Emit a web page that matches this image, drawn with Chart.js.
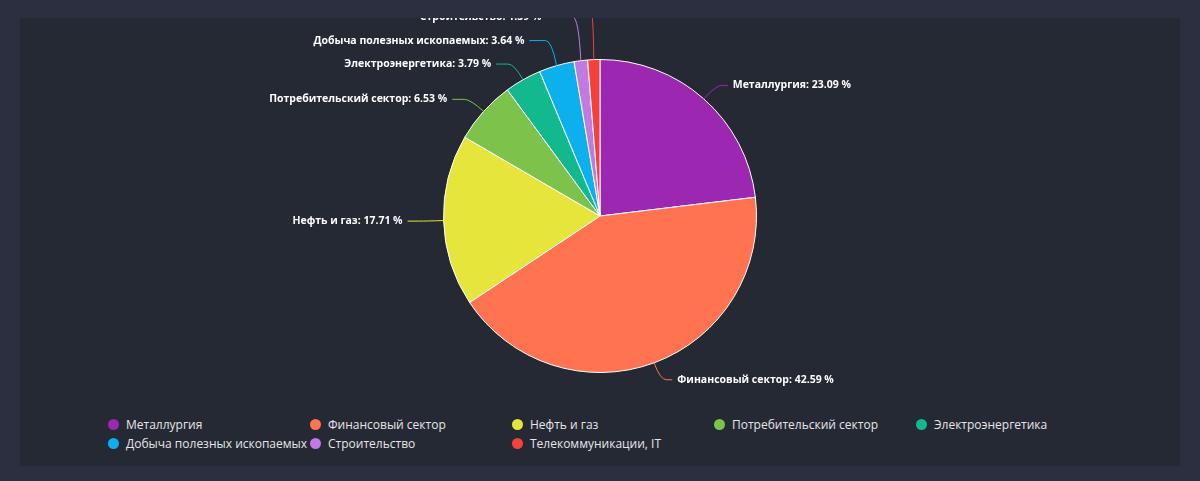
<!DOCTYPE html>
<html><head><meta charset="utf-8">
<script src="https://cdn.jsdelivr.net/npm/chart.js@4"></script>
<style>
  body{margin:0;background:#2c2f40;font-family:"Open Sans",sans-serif;}
  .panel{position:absolute;left:20px;top:18px;width:1160px;height:448px;background:#252934;}
  .wrap{position:absolute;left:0;top:0;width:1160px;height:396px;}
  .legend{position:absolute;left:88px;top:398px;display:grid;grid-template-columns:repeat(5,202px);row-gap:2px;color:#e6e6e6;font-size:12px;}
  .legend span{display:flex;align-items:center;height:17px;}
  .legend i{display:inline-block;width:11px;height:11px;border-radius:50%;margin-right:7px;}
</style></head>
<body>
<div class="panel">
  <div class="wrap"><canvas id="c"></canvas></div>
  <div class="legend" id="legend"></div>
</div>
<script>
const labels = ['Металлургия','Финансовый сектор','Нефть и газ','Потребительский сектор','Электроэнергетика','Добыча полезных ископаемых','Строительство','Телекоммуникации, IT'];
const values = [23.09, 42.59, 17.71, 6.53, 3.79, 3.64, 1.39, 1.26];
const colors = ['#9c27b0','#ff7350','#e5e53b','#7dc24a','#12b88e','#0bb0ec','#c07ae0','#f2423a'];

document.getElementById('legend').innerHTML = labels.map((l, i) =>
  `<span><i style="background:${colors[i]}"></i>${l}</span>`).join('');

const leaderLabels = {
  id: 'leaderLabels',
  afterDatasetsDraw(chart) {
    const ctx = chart.ctx;
    const arcs = chart.getDatasetMeta(0).data;
    const items = arcs.map((a, i) => {
      const mid = (a.startAngle + a.endAngle) / 2;
      const r = a.outerRadius;
      const cos = Math.cos(mid), sin = Math.sin(mid);
      return {
        i, right: cos >= 0,
        x0: a.x + cos * r, y0: a.y + sin * r,
        x1: a.x + cos * (r + 18), y1: a.y + sin * (r + 18),
      };
    });
    // spread left labels upward so they don't overlap
    const left = items.filter(t => !t.right).sort((a, b) => b.y1 - a.y1);
    let prev = null;
    left.forEach(t => {
      t.ly = t.y1;
      if (prev !== null && prev - t.ly < 23.5) t.ly = prev - 23.5;
      prev = t.ly;
    });
    items.filter(t => t.right).forEach(t => t.ly = t.y1);
    ctx.save();
    ctx.font = 'bold 10.5px "Open Sans"';
    ctx.textBaseline = 'middle';
    items.forEach(t => {
      const dir = t.right ? 1 : -1;
      const lx = t.x1 + dir * (t.right ? 12 : 18 + Math.abs(t.ly - t.y1) * 0.55);
      ctx.strokeStyle = colors[t.i];
      ctx.lineWidth = 1;
      ctx.beginPath();
      ctx.moveTo(t.x0, t.y0);
      ctx.quadraticCurveTo(t.x1, t.ly, t.x1 + dir * 6, t.ly);
      ctx.lineTo(lx, t.ly);
      ctx.stroke();
      ctx.fillStyle = '#ffffff';
      ctx.textAlign = t.right ? 'left' : 'right';
      ctx.fillText(`${labels[t.i]}: ${values[t.i].toFixed(2)} %`, lx + dir * 5, t.ly);
    });
    ctx.restore();
  }
};

new Chart(document.getElementById('c'), {
  type: 'pie',
  data: { labels, datasets: [{ data: values, backgroundColor: colors, borderColor: '#ffffff', borderWidth: 1 }] },
  options: {
    responsive: true, maintainAspectRatio: false, animation: false,
    layout: { padding: { top: 41, bottom: 41 } },
    plugins: { legend: { display: false }, tooltip: { enabled: false } }
  },
  plugins: [leaderLabels]
});
</script>
</body></html>
